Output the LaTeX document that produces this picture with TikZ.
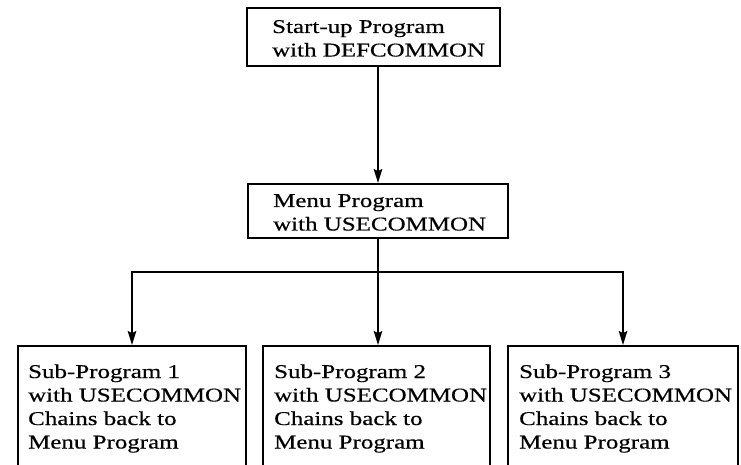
\documentclass[tikz,border=0pt]{standalone}
\usepackage{fontspec}
\setmainfont{Liberation Serif}[FakeStretch=1.28,FakeBold=0.5]
\usetikzlibrary{arrows.meta}
% left-aligned block of lines whose baseline is that of its first line
\newcommand\boxlines[1]{\begin{tabular}[t]{@{}l@{}}#1\end{tabular}}
\begin{document}
\begin{tikzpicture}[x=1pt,y=-1pt,
  box/.style={draw, line width=1.9pt, inner sep=0pt},
  boxtext/.style={anchor=base west, inner sep=0pt, font=\fontsize{19.5}{23.5}\selectfont},
  link/.style={line width=1.9pt},
  arr/.style={link, -{Stealth[length=14pt,width=8.5pt,inset=2pt]}}]
\useasboundingbox (0,0) rectangle (741,465);
\clip (0,0) rectangle (741,465);

% program boxes
\node[box, minimum width=253pt, minimum height=58pt] (top)  at (373.5,37) {};
\node[box, minimum width=260pt, minimum height=54pt] (menu) at (378,211) {};
\node[box, minimum width=228pt, minimum height=160pt] (b1) at (132,426) {};
\node[box, minimum width=227pt, minimum height=160pt] (b2) at (376.5,426) {};
\node[box, minimum width=230pt, minimum height=160pt] (b3) at (623,426) {};

% box texts
\node[boxtext] (ttop)  at (272,33)  {\boxlines{Start-up Program\\with DEFCOMMON}};
\node[boxtext] (tmenu) at (273,207) {\boxlines{Menu Program\\with USECOMMON}};
\node[boxtext] (tb1) at (28,378)  {\boxlines{Sub-Program 1\\with USECOMMON\\Chains back to\\Menu Program}};
\node[boxtext] (tb2) at (274,378) {\boxlines{Sub-Program 2\\with USECOMMON\\Chains back to\\Menu Program}};
\node[boxtext] (tb3) at (519,378) {\boxlines{Sub-Program 3\\with USECOMMON\\Chains back to\\Menu Program}};

% connectors
\coordinate (bar) at (378,272);
\draw[arr] (top.south -| menu.north) -- (menu.north);
\draw[link] (menu.south) -- (bar);
\draw[arr] (bar) -- (bar |- b2.north);
\draw[arr] (bar) -| (b1.north);
\draw[arr] (bar) -| (b3.north);
\end{tikzpicture}
\end{document}
